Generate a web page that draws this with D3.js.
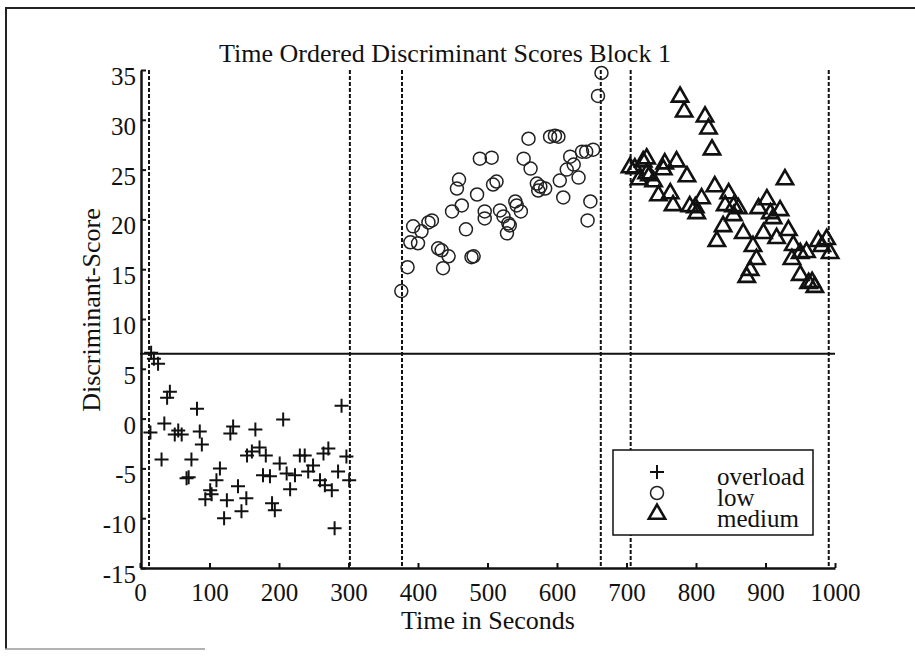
<!DOCTYPE html>
<html>
<head>
<meta charset="utf-8">
<script src="https://cdn.jsdelivr.net/npm/d3@7/dist/d3.min.js"></script>
<style>
  html, body { margin: 0; padding: 0; background: #fff; }
  svg { display: block; }
  text { font-family: "Liberation Serif", "Times New Roman", serif; fill: #111; }
</style>
</head>
<body>
<svg id="chart" width="915" height="658"></svg>
<script>
// ---- data -------------------------------------------------------------
const chartTitle = "Time Ordered Discriminant Scores Block 1";
const xLabel = "Time in Seconds";
const yLabel = "Discriminant-Score";

const xTicks = [0, 100, 200, 300, 400, 500, 600, 700, 800, 900, 1000];
const yTicks = [-15, -10, -5, 0, 5, 10, 15, 20, 25, 30, 35];

// segment boundaries (seconds) and the decision threshold
const boundaryTimes = [13, 302, 377, 663, 706, 991];
const thresholdScore = 6.5;

// overload condition
const overloadTime = [16, 20, 26, 15, 31, 43, 39, 35, 55, 50, 60, 82, 86, 89, 74, 67, 70,
  115, 110, 101, 103, 94, 125, 121, 134, 130, 141, 153, 146, 166, 154, 161, 172, 181,
  177, 187, 190, 194, 201, 206, 211, 216, 223, 230, 237, 249, 242, 259, 266, 276, 264,
  271, 285, 280, 290, 297, 301];
const overloadScore = [6.6, 6.0, 5.5, -1.4, -4.1, 2.7, 2.1, -0.5, -1.2, -1.6, -1.6, 1.0, -1.3, -2.6, -4.1, -6.0, -5.9,
  -5.0, -6.2, -7.2, -7.6, -8.1, -8.2, -10.0, -0.8, -1.5, -6.8, -8.0, -9.3, -1.1, -3.7, -3.3, -2.9, -3.7,
  -5.7, -5.8, -8.5, -9.2, -4.5, -0.1, -5.5, -7.1, -5.7, -3.7, -3.7, -4.7, -5.3, -6.2, -6.7, -7.2, -3.5,
  -3.0, -5.3, -11.0, 1.3, -3.8, -6.2];

// low condition
const lowTime = [376, 385, 389, 393, 400, 405, 415, 420, 429, 434, 444, 436, 449, 463, 456, 459,
  469, 477, 480, 485, 489, 506, 496, 496, 508, 513, 518, 523, 530, 532, 528, 540, 542, 548,
  552, 559, 562, 571, 576, 573, 583, 590, 597, 602, 604, 609, 614, 619, 624, 631, 636, 642,
  652, 648, 644, 659, 664];
const lowScore = [12.8, 15.2, 17.7, 19.3, 17.6, 18.8, 19.7, 19.9, 17.1, 16.9, 16.3, 15.1, 20.8, 21.4, 23.1, 24.0,
  19.0, 16.2, 16.3, 22.5, 26.1, 26.2, 20.8, 20.1, 23.5, 23.8, 20.9, 20.3, 19.6, 19.4, 18.6, 21.8, 21.4, 20.8,
  26.1, 28.1, 25.1, 23.6, 23.3, 22.9, 23.1, 28.3, 28.4, 28.3, 23.9, 22.2, 25.0, 26.3, 25.5, 24.2, 26.8, 26.8,
  27.0, 21.8, 19.9, 32.4, 34.7];

// medium condition
const mediumTime = [777, 783, 813, 818, 823, 705, 712, 724, 729, 718, 729, 733, 739, 755, 753, 772,
  787, 746, 763, 767, 791, 799, 801, 808, 827, 847, 842, 854, 861, 854, 839, 830, 868, 882,
  887, 878, 873, 890, 902, 907, 911, 921, 897, 916, 933, 928, 940, 938, 950, 959, 950, 962,
  971, 967, 976, 988, 981, 993];
const mediumScore = [32.3, 30.8, 30.3, 29.1, 27.0, 25.2, 25.1, 25.8, 26.1, 24.0, 24.6, 24.4, 23.8, 25.6, 25.0, 25.8,
  24.3, 22.4, 22.6, 21.4, 21.3, 21.2, 20.6, 22.1, 23.3, 22.6, 21.4, 21.3, 21.1, 20.4, 19.3, 17.8, 18.6, 17.3,
  16.0, 14.9, 14.2, 21.1, 22.0, 20.6, 20.1, 20.9, 18.6, 18.1, 18.9, 24.0, 17.4, 16.0, 16.6, 16.7, 14.4, 13.6,
  13.2, 13.7, 17.8, 18.0, 17.3, 16.6];

const legendLabels = ["overload", "low", "medium"];

// ---- layout -----------------------------------------------------------
const svg = d3.select("#chart");
const ink = "#111";
const serif = "'Liberation Serif', 'Times New Roman', serif";
const plotLeft = 141, plotRight = 835, plotTop = 70, plotBottom = 568;

const x = d3.scaleLinear().domain([0, 1000]).range([plotLeft - 1, plotRight]);
const y = d3.scaleLinear().domain([-15, 35]).range([plotBottom, plotTop]);

// page frame
svg.append("line").attr("x1", 6).attr("x2", 915).attr("y1", 8).attr("y2", 8)
  .attr("stroke", "#222").attr("stroke-width", 2);
svg.append("line").attr("x1", 6).attr("x2", 6).attr("y1", 7).attr("y2", 649)
  .attr("stroke", "#222").attr("stroke-width", 2);
svg.append("line").attr("x1", 5).attr("x2", 205).attr("y1", 649).attr("y2", 649)
  .attr("stroke", "#999").attr("stroke-width", 1.5);

// title
svg.append("text").attr("x", 445).attr("y", 62).attr("text-anchor", "middle")
  .style("font-size", "26px").text(chartTitle);

// segment boundaries
svg.append("g").selectAll("line").data(boundaryTimes).join("line")
  .attr("x1", d => x(d)).attr("x2", d => x(d))
  .attr("y1", y(35)).attr("y2", y(-15))
  .attr("stroke", ink).attr("stroke-width", 2).attr("stroke-dasharray", "4,2");

// threshold line
svg.append("line")
  .attr("x1", x(0)).attr("x2", x(1000))
  .attr("y1", y(thresholdScore)).attr("y2", y(thresholdScore))
  .attr("stroke", ink).attr("stroke-width", 2);

// axes (plain hyphen-minus, no thousands separator)
const fmt = d => String(d);
const yAxis = d3.axisLeft(y).tickValues(yTicks).tickFormat(fmt)
  .tickSize(-5).tickSizeOuter(0).tickPadding(5);
const xAxis = d3.axisBottom(x).tickValues(xTicks).tickFormat(fmt)
  .tickSize(-5).tickSizeOuter(0).tickPadding(12);

const gy = svg.append("g").attr("transform", `translate(${plotLeft},0)`).call(yAxis);
const gx = svg.append("g").attr("transform", `translate(0,${plotBottom})`).call(xAxis);

[gx, gy].forEach(g => {
  g.select(".domain").attr("stroke", ink).attr("stroke-width", 2.5);
  g.selectAll(".tick line").attr("stroke", ink).attr("stroke-width", 2);
  g.selectAll(".tick text").attr("fill", ink)
    .style("font-family", serif)
    .style("font-size", "25px");
});
gy.selectAll(".tick text").attr("dy", "0.58em");
gx.selectAll(".tick text").attr("dy", "0.85em");

// axis titles
svg.append("text").attr("x", (plotLeft + plotRight) / 2).attr("y", 629)
  .attr("text-anchor", "middle").style("font-size", "26px").text(xLabel);
svg.append("text").attr("transform", `translate(100,310) rotate(-90)`)
  .attr("text-anchor", "middle").style("font-size", "26px").text(yLabel);

// markers
const plusPath = "M-7,0H7M0,-7V7";
const triPath = d3.symbol().type(d3.symbolTriangle).size(115)();

function drawPlus(g) {
  g.attr("d", plusPath).attr("fill", "none").attr("stroke", ink).attr("stroke-width", 2);
}
function drawCircle(g) {
  g.attr("r", 6.5).attr("fill", "none").attr("stroke", "#222").attr("stroke-width", 1.5);
}
function drawTri(g) {
  g.attr("d", triPath).attr("fill", "none").attr("stroke", ink)
    .attr("stroke-width", 2.6).attr("stroke-linejoin", "miter");
}

svg.append("g").selectAll("path").data(d3.range(overloadTime.length)).join("path")
  .attr("transform", i => `translate(${x(overloadTime[i])},${y(overloadScore[i])})`)
  .call(drawPlus);

svg.append("g").selectAll("circle").data(d3.range(lowTime.length)).join("circle")
  .attr("cx", i => x(lowTime[i])).attr("cy", i => y(lowScore[i]))
  .call(drawCircle);

svg.append("g").selectAll("path").data(d3.range(mediumTime.length)).join("path")
  .attr("transform", i => `translate(${x(mediumTime[i])},${y(mediumScore[i])})`)
  .call(drawTri);

// legend
const lg = svg.append("g").attr("transform", "translate(613,450)");
lg.append("rect").attr("width", 200).attr("height", 85)
  .attr("fill", "#fff").attr("stroke", ink).attr("stroke-width", 1.5);
lg.append("path").attr("transform", "translate(44,22)").call(drawPlus);
lg.append("circle").attr("cx", 44).attr("cy", 43).call(drawCircle);
lg.append("path").attr("transform", "translate(44,64)").call(drawTri);
lg.selectAll("text.lab").data(legendLabels).join("text")
  .attr("class", "lab")
  .attr("x", 104).attr("y", (d, i) => 35 + i * 21)
  .style("font-size", "25px").text(d => d);
</script>
</body>
</html>
